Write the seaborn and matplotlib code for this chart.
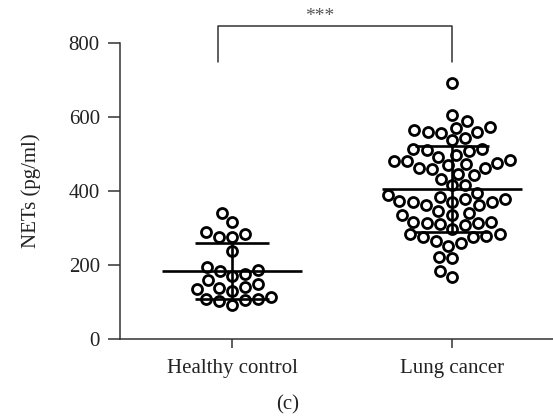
import pandas as pd
import numpy as np
import seaborn as sns
import matplotlib.pyplot as plt

# values (pg/ml)
groups = ['Healthy control', 'Lung cancer']
healthy = [340, 317, 283, 275, 276, 289, 237, 194, 185, 170, 176, 186, 159,
           148, 131, 138, 134, 140, 108, 105, 93, 103, 109, 113]
lung = [691, 605, 590, 571, 560, 558, 544, 559, 565, 572,
        538, 513, 507, 511, 513, 493, 496, 482, 475, 469,
        460, 462, 462, 473, 480, 484, 446, 433, 442, 415,
        415, 395, 383, 379, 374, 379, 390, 370, 361, 361,
        370, 345, 336, 341, 334, 317, 314, 308, 311, 314,
        316, 296, 283, 278, 276, 276, 283, 260, 251, 264,
        221, 218, 185, 168, 370]
yticks = [0, 200, 400, 600, 800]

df = pd.DataFrame({
    'group': [groups[0]] * len(healthy) + [groups[1]] * len(lung),
    'NETs': healthy + lung,
})

sns.set_style('ticks')
plt.rcParams['font.family'] = ['Liberation Serif', 'DejaVu Serif']

fig = plt.figure(figsize=(5.53, 4.17), dpi=100)
ax = fig.add_axes([0.217, 0.187, 0.783, 0.71])

sns.swarmplot(data=df, x='group', y='NETs', order=groups, ax=ax,
              color='white', edgecolor='black', linewidth=2.0, size=7.2)

# mean +/- SD
for i, vals in enumerate([healthy, lung]):
    m = np.mean(vals)
    sd = np.std(vals, ddof=1)
    ax.hlines(m, i - 0.32, i + 0.32, color='black', lw=1.9, zorder=5)
    ax.vlines(i, m - sd, m + sd, color='black', lw=1.9, zorder=5)
    ax.hlines([m - sd, m + sd], i - 0.17, i + 0.17, color='black', lw=1.9, zorder=5)

ax.set_xlim(-0.509, 1.459)
ax.set_ylim(0, 800)
ax.set_yticks(yticks)
ax.set_xlabel('')
ax.set_ylabel('NETs (pg/ml)', fontsize=15, color='#222222', labelpad=20)
ax.tick_params(axis='y', labelsize=15, length=8.5, width=1.1, colors='#333333',
               labelcolor='#222222', pad=6)
ax.tick_params(axis='x', labelsize=15, length=6.5, width=1.1, colors='#333333',
               labelcolor='#222222', pad=8)
for side in ['left', 'bottom']:
    ax.spines[side].set_linewidth(1.1)
    ax.spines[side].set_color('#333333')
sns.despine(ax=ax)

# significance bracket
ax.plot([-0.064, -0.064, 1.0, 1.0], [749, 846, 846, 749], color='#333333',
        lw=1.1, clip_on=False)
ax.text(0.40, 849, '***', ha='center', va='bottom', fontsize=14, color='#555555')

fig.text(0.521, 0.03, '(c)', ha='center', va='center', fontsize=15, color='#222222')

fig.savefig('out.png', dpi=100)
